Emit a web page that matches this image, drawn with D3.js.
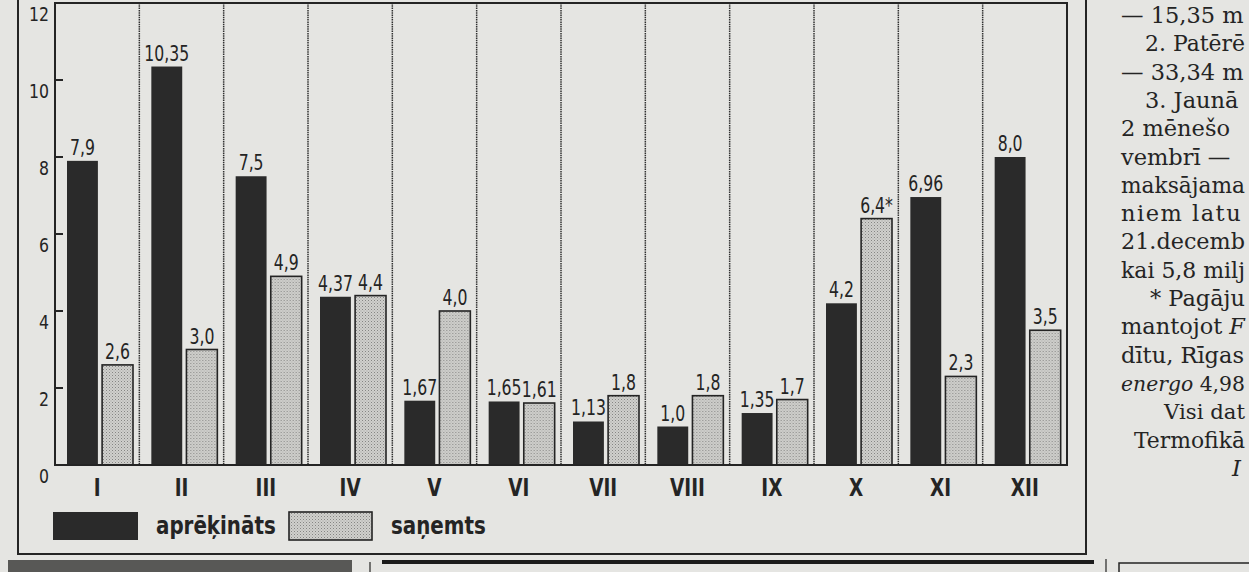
<!DOCTYPE html>
<html>
<head>
<meta charset="utf-8">
<script src="https://cdn.jsdelivr.net/npm/d3@7"></script>
<style>
body{margin:0;background:#e5e5e2;overflow:hidden}
</style>
</head>
<body>
<script>
const months=["I","II","III","IV","V","VI","VII","VIII","IX","X","XI","XII"]
const aprekinats=[7.9,10.35,7.5,4.37,1.67,1.65,1.13,1.0,1.35,4.2,6.96,8.0]
const sanemts=[2.6,3.0,4.9,4.4,4.0,1.61,1.8,1.8,1.7,6.4,2.3,3.5]
const aprLabels=["7,9","10,35","7,5","4,37","1,67","1,65","1,13","1,0","1,35","4,2","6,96","8,0"]
const sanLabels=["2,6","3,0","4,9","4,4","4,0","1,61","1,8","1,8","1,7","6,4*","2,3","3,5"]
const yTicks=[0,2,4,6,8,10,12]
const legendNames=["aprēķināts","saņemts"]
// text column on the right, cut by the page edge
const sideText=[
	{x:1121,parts:[["— 15,35 m",0]]},
	{x:1145,parts:[["2. Patērē",0]]},
	{x:1121,parts:[["— 33,34 m",0]]},
	{x:1145,parts:[["3. Jaunā",0]]},
	{x:1121,parts:[["2 mēnešo",0]]},
	{x:1121,parts:[["vembrī —",0]]},
	{x:1121,parts:[["maksājama",0]]},
	{x:1121,parts:[["niem  latu",0]],wide:true},
	{x:1121,parts:[["21.decemb",0]]},
	{x:1121,parts:[["kai 5,8 milj",0]]},
	{x:1150,parts:[["* Pagāju",0]]},
	{x:1121,parts:[["mantojot ",0],["F",1]]},
	{x:1121,parts:[["dītu, Rīgas",0]]},
	{x:1121,parts:[["energo",1],[" 4,98",0]]},
	{x:1164,parts:[["Visi dat",0]]},
	{x:1134,parts:[["Termofikā",0]]},
	{x:1232,parts:[["I",1]]}
]

const ink="#242424"
const sans="'DejaVu Sans Condensed','DejaVu Sans',sans-serif"
const squeeze=0.85

const svg=d3.select("body").append("svg").attr("width",1249).attr("height",572)

const defs=svg.append("defs")
const pat=defs.append("pattern").attr("id","dots").attr("width",3).attr("height",3).attr("patternUnits","userSpaceOnUse")
pat.append("rect").attr("width",3).attr("height",3).attr("fill","#d0d0cd")
pat.append("rect").attr("width",1).attr("height",1).attr("fill","#858583")
pat.append("rect").attr("x",1.5).attr("y",1.5).attr("width",1).attr("height",1).attr("fill","#a2a2a0")

const x0=d3.scaleBand().domain(months).range([55,1067])
const x1=d3.scaleBand().domain(["apr","san"]).range([12,78]).paddingInner(0.12)
const y=d3.scaleLinear().domain([0,12]).range([465,3])

function place(cx,cy,k){return "translate("+cx+","+cy+") scale("+k+",1)"}

// outer frame
svg.append("path").attr("d","M18,0V554H1086V0").attr("fill","none").attr("stroke",ink).attr("stroke-width",2)

// month separators
svg.append("g").selectAll("line").data(months.slice(1)).join("line")
	.attr("x1",d=>x0(d)).attr("x2",d=>x0(d))
	.attr("y1",y(12)).attr("y2",y(0))
	.attr("stroke","#303030").attr("stroke-width",1.5).attr("stroke-dasharray","1.5,0.8")

// bars
const groups=svg.append("g").selectAll("g").data(months).join("g")
	.attr("transform",d=>"translate("+x0(d)+",0)")
groups.append("rect")
	.attr("x",x1("apr")).attr("width",x1.bandwidth())
	.attr("y",(d,i)=>y(aprekinats[i])).attr("height",(d,i)=>y(0)-y(aprekinats[i]))
	.attr("fill","#2a2a2a")
groups.append("rect")
	.attr("x",x1("san")).attr("width",x1.bandwidth())
	.attr("y",(d,i)=>y(sanemts[i])).attr("height",(d,i)=>y(0)-y(sanemts[i]))
	.attr("fill","url(#dots)").attr("stroke",ink).attr("stroke-width",1.6)

groups.append("text")
	.attr("transform",(d,i)=>place(x1("apr")+x1.bandwidth()/2,y(aprekinats[i])-6,squeeze))
	.attr("text-anchor","middle").attr("font-family",sans).attr("font-size",20.5).attr("fill",ink)
	.text((d,i)=>aprLabels[i])
groups.append("text")
	.attr("transform",(d,i)=>place(x1("san")+x1.bandwidth()/2,y(sanemts[i])-6,squeeze))
	.attr("text-anchor","middle").attr("font-family",sans).attr("font-size",20.5).attr("fill",ink)
	.text((d,i)=>sanLabels[i])

// plot box
svg.append("rect").attr("x",55).attr("y",y(12)).attr("width",1067-55).attr("height",y(0)-y(12))
	.attr("fill","none").attr("stroke",ink).attr("stroke-width",2)

// y ticks
const yAxis=svg.append("g")
yAxis.selectAll("line").data(yTicks.filter(t=>t>0&&t<12)).join("line")
	.attr("x1",55).attr("x2",63).attr("y1",d=>y(d)).attr("y2",d=>y(d))
	.attr("stroke",ink).attr("stroke-width",2)
yAxis.selectAll("text").data(yTicks).join("text")
	.attr("transform",d=>place(49,y(d)+11,0.92))
	.attr("text-anchor","end").attr("dominant-baseline","central")
	.attr("font-family",sans).attr("font-size",19).attr("fill",ink)
	.text(d=>d)

// month labels
svg.append("g").selectAll("text").data(months).join("text")
	.attr("transform",d=>place(x0(d)+x0.bandwidth()/2,487,0.82))
	.attr("text-anchor","middle").attr("dominant-baseline","central")
	.attr("font-family",sans).attr("font-weight","bold").attr("font-size",25).attr("fill",ink)
	.text(d=>d)

// legend
const legend=svg.append("g")
legend.append("rect").attr("x",53).attr("y",512).attr("width",85).attr("height",28).attr("fill","#2a2a2a")
legend.append("rect").attr("x",289).attr("y",512).attr("width",83).attr("height",28)
	.attr("fill","url(#dots)").attr("stroke",ink).attr("stroke-width",1.6)
legend.selectAll("text").data(legendNames).join("text")
	.attr("transform",(d,i)=>place(i==0?156:391,526,0.92))
	.attr("dominant-baseline","central")
	.attr("font-family",sans).attr("font-weight","bold").attr("font-size",24).attr("fill",ink)
	.text(d=>d)

// bits of the next page elements below the frame
svg.append("rect").attr("x",8).attr("y",560).attr("width",344).attr("height",12).attr("fill","#585856")
svg.append("line").attr("x1",370).attr("x2",370).attr("y1",562).attr("y2",572).attr("stroke",ink).attr("stroke-width",1.2)
svg.append("line").attr("x1",382).attr("x2",1094).attr("y1",562).attr("y2",562).attr("stroke","#1c1c1c").attr("stroke-width",4)
svg.append("line").attr("x1",1106).attr("x2",1106).attr("y1",559).attr("y2",572).attr("stroke",ink).attr("stroke-width",1.2)
svg.append("path").attr("d","M1119,572V563H1249").attr("fill","none").attr("stroke",ink).attr("stroke-width",1.5)

// side text, shrunk where a line would run past the page edge
const fs=22.5
const side=svg.append("g").attr("font-family","'DejaVu Serif',serif").attr("fill",ink)
sideText.forEach((line,i)=>{
	let t=side.append("text").attr("x",line.x).attr("y",23+i*28.3).attr("font-size",fs)
	if(line.wide){t.attr("letter-spacing",1.5)}
	for(const p of line.parts){
		t.append("tspan").attr("font-style",p[1]?"italic":"normal").text(p[0])
	}
	let room=1245-line.x
	let len=t.node().getComputedTextLength()
	if(len>room){
		t.attr("font-size",fs*room/len)
	}
})
</script>
</body>
</html>
